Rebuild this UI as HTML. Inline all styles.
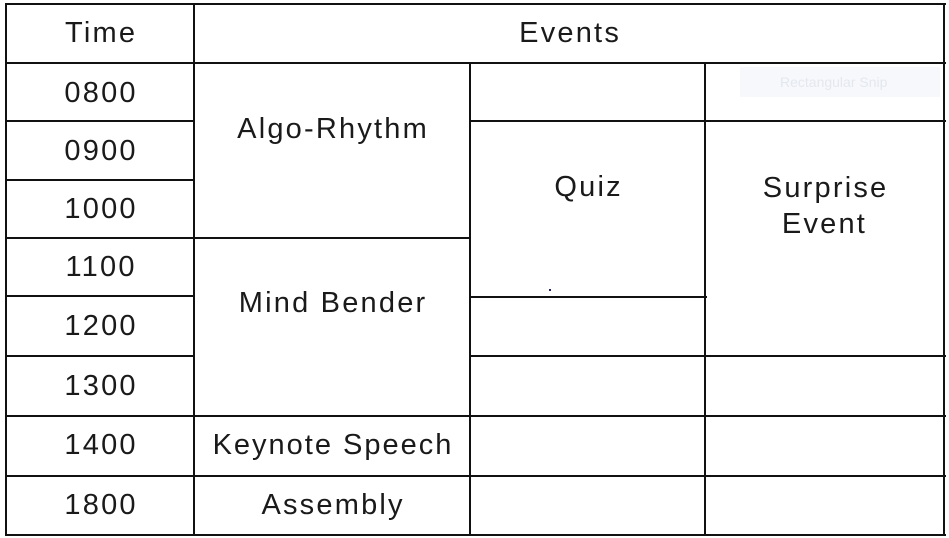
<!DOCTYPE html>
<html><head><style>
body{margin:0;width:949px;height:538px;background:#fff;position:relative;overflow:hidden;font-family:"Liberation Sans",sans-serif;color:#1a1a1a}
.h{position:absolute;height:2px;background:#111}
.v{position:absolute;width:2px;background:#111}
.t{position:absolute;font-size:29px;text-align:center;line-height:30px;letter-spacing:2.2px;text-indent:2.2px}
</style></head><body>
<div class="h" style="left:5px;width:941px;top:3px"></div>
<div class="h" style="left:5px;width:941px;top:62px"></div>
<div class="h" style="left:5px;width:189px;top:120px"></div>
<div class="h" style="left:469px;width:477px;top:120px"></div>
<div class="h" style="left:5px;width:189px;top:179px"></div>
<div class="h" style="left:5px;width:465px;top:237px"></div>
<div class="h" style="left:5px;width:189px;top:295px"></div>
<div class="h" style="left:469px;width:238px;top:296px"></div>
<div class="h" style="left:5px;width:189px;top:355px"></div>
<div class="h" style="left:469px;width:477px;top:355px"></div>
<div class="h" style="left:5px;width:941px;top:415px"></div>
<div class="h" style="left:5px;width:941px;top:475px"></div>
<div class="h" style="left:5px;width:941px;top:534px"></div>
<div class="v" style="left:5px;top:3px;height:533px"></div>
<div class="v" style="left:193px;top:3px;height:533px"></div>
<div class="v" style="left:469px;top:62px;height:474px"></div>
<div class="v" style="left:704px;top:62px;height:474px"></div>
<div class="v" style="left:943px;top:3px;height:533px"></div>
<div style="position:absolute;left:740px;top:67px;width:200px;height:30px;background:#f6f8fc"></div>
<div style="position:absolute;left:780px;top:74px;font-size:14px;color:#e4e8ee">Rectangular Snip</div>
<div style="position:absolute;left:549px;top:289px;width:2px;height:2px;background:#226"></div>
<div class="t" style="left:6px;width:188px;top:18px">Time</div>
<div class="t" style="left:194px;width:750px;top:18px">Events</div>
<div class="t" style="left:6px;width:188px;top:78px">0800</div>
<div class="t" style="left:6px;width:188px;top:136px">0900</div>
<div class="t" style="left:6px;width:188px;top:194px">1000</div>
<div class="t" style="left:6px;width:188px;top:252px">1100</div>
<div class="t" style="left:6px;width:188px;top:311px">1200</div>
<div class="t" style="left:6px;width:188px;top:371px">1300</div>
<div class="t" style="left:6px;width:188px;top:430px">1400</div>
<div class="t" style="left:6px;width:188px;top:490px">1800</div>
<div class="t" style="left:194px;width:276px;top:114px">Algo-Rhythm</div>
<div class="t" style="left:194px;width:276px;top:288px">Mind Bender</div>
<div class="t" style="left:194px;width:276px;top:430px;letter-spacing:2px;text-indent:2px">Keynote Speech</div>
<div class="t" style="left:194px;width:276px;top:490px">Assembly</div>
<div class="t" style="left:470px;width:235px;top:172px">Quiz</div>
<div class="t" style="left:705px;width:239px;top:170px;line-height:36px">Surprise<br>Event</div>
</body></html>
